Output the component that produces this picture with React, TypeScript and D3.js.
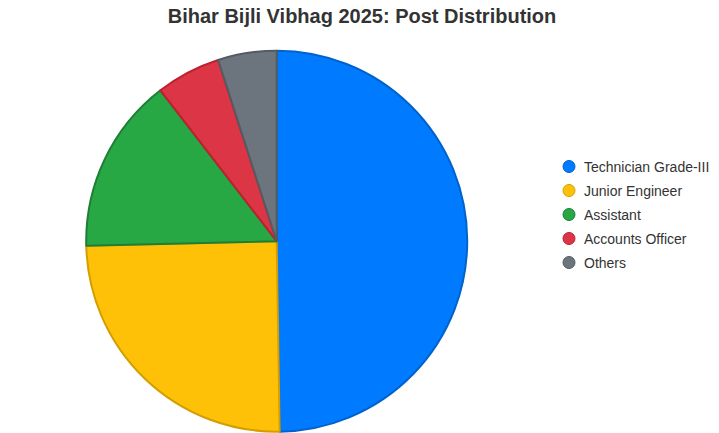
import * as d3 from "d3";

const categories = ["Technician Grade-III", "Junior Engineer", "Assistant", "Accounts Officer", "Others"];
const values = [50, 25, 15, 5.5, 5];
const fills = ["#007bff", "#ffc107", "#28a745", "#dc3545", "#6c757d"];
const borders = ["#0062cc", "#d39e00", "#1e7e34", "#bd2130", "#545b62"];

const WIDTH = 719;
const HEIGHT = 433;
const CX = 276.7;
const CY = 241.2;
const R = 190.5;
const FONT = "'Liberation Sans', Arial, Helvetica, sans-serif";

type Slice = { label: string; value: number; index: number };

export default function App() {
  const data: Slice[] = categories.map((label, index) => ({ label, value: values[index], index }));
  const pie = d3
    .pie<Slice>()
    .sort(null)
    .value((d) => d.value);
  const arc = d3.arc<d3.PieArcDatum<Slice>>().innerRadius(0).outerRadius(R);
  const arcs = pie(data);

  // Legend rows evenly spaced down the right side.
  const legendY = d3
    .scalePoint<string>()
    .domain(categories)
    .range([166.5, 262.5]);

  return (
    <svg
      width={WIDTH}
      height={HEIGHT}
      viewBox={`0 0 ${WIDTH} ${HEIGHT}`}
      style={{ position: "absolute", left: 0, top: 0, background: "#fff" }}
    >
      <text
        x={362}
        y={23}
        textAnchor="middle"
        fontFamily={FONT}
        fontWeight="bold"
        fontSize={20}
        fill="#333"
      >
        Bihar Bijli Vibhag 2025: Post Distribution
      </text>

      <g transform={`translate(${CX}, ${CY})`}>
        {arcs.map((a) => (
          <path
            key={a.data.label}
            d={arc(a) ?? ""}
            fill={fills[a.data.index]}
            stroke={borders[a.data.index]}
            strokeWidth={2}
            strokeLinejoin="round"
          />
        ))}
      </g>

      <g>
        {categories.map((label, i) => (
          <g key={label} transform={`translate(569, ${legendY(label)})`}>
            <circle r={6} fill={fills[i]} stroke={borders[i]} strokeWidth={1} />
            <text x={15} y={5} fontFamily={FONT} fontSize={14} fill="#333">
              {label}
            </text>
          </g>
        ))}
      </g>
    </svg>
  );
}
